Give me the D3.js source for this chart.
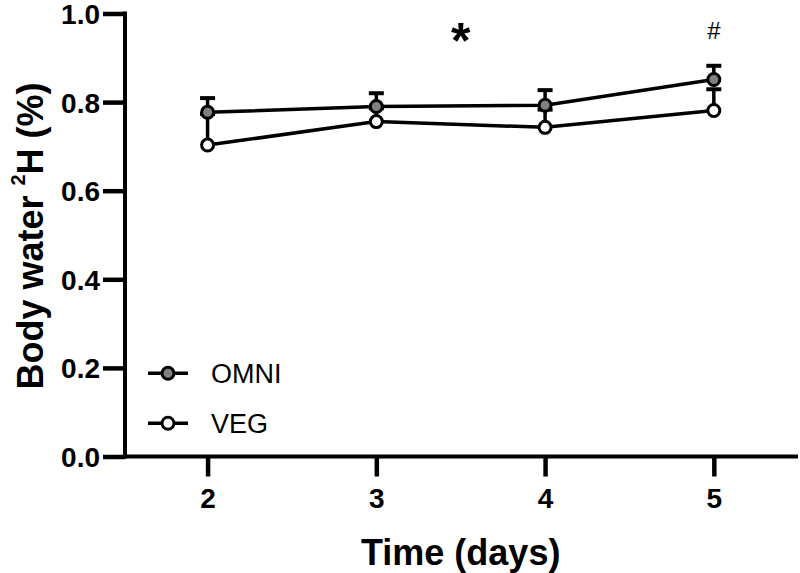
<!DOCTYPE html>
<html><head><meta charset="utf-8">
<script src="https://cdn.jsdelivr.net/npm/d3@7"></script>
<style>body{margin:0;background:#fff}svg{display:block}</style>
</head><body>
<svg id="c" width="800" height="573"></svg>
<script>
const days = [2, 3, 4, 5];
const omniMean = [0.777, 0.790, 0.793, 0.851];
const omniErr  = [0.032, 0.030, 0.034, 0.031];
const vegMean  = [0.703, 0.756, 0.743, 0.781];
const vegErr   = [0.070, 0.030, 0.040, 0.048];
const yTicks = [0.0, 0.2, 0.4, 0.6, 0.8, 1.0];
const seriesNames = ["OMNI", "VEG"];
const seriesFill = ["#808080", "#ffffff"];
const annotations = [{x: 3.5, text: "*"}, {x: 5, text: "#"}];

const svg = d3.select("#c");
const x = d3.scaleLinear().domain([1.5, 5.5]).range([123.2, 798.2]);
const y = d3.scaleLinear().domain([0, 1]).range([456.5, 13.5]);
const font = "'Liberation Sans', Arial, sans-serif";

// axes
const yAx = svg.append("g").attr("transform", "translate(125,0)")
  .call(d3.axisLeft(y).tickValues(yTicks).tickFormat(d3.format(".1f")).tickSize(22).tickPadding(3));
const xAx = svg.append("g").attr("transform", "translate(0,456.5)")
  .call(d3.axisBottom(x).tickValues(days).tickFormat(d3.format("d")).tickSize(20).tickPadding(12));
[yAx, xAx].forEach(g => {
  g.attr("font-size", null).attr("font-family", null);
  g.select(".domain").attr("stroke", "#000").attr("stroke-width", 4);
  g.selectAll(".tick line").attr("stroke", "#000").attr("stroke-width", 4.5);
  g.selectAll(".tick text").attr("fill", "#000").attr("font-family", font)
    .attr("font-size", 28).attr("font-weight", "bold");
});
yAx.select(".domain").attr("d", "M0,458.5V11.5");
xAx.select(".domain").attr("d", "M123,0H798");
yAx.selectAll(".tick text").attr("dy", "0.36em");

// axis titles
const yt = svg.append("text").attr("transform", "translate(43,236) rotate(-90)")
  .attr("text-anchor", "middle").attr("font-family", font).attr("font-size", 36)
  .attr("font-weight", "bold").attr("fill", "#000");
yt.append("tspan").text("Body water ");
yt.append("tspan").text("2").attr("dy", -18).attr("font-size", 20);
yt.append("tspan").text("H (%)").attr("dy", 18);

svg.append("text").attr("x", x(3.5)).attr("y", 565).attr("text-anchor", "middle")
  .attr("font-family", font).attr("font-size", 36).attr("font-weight", "bold")
  .text("Time (days)");

// series
const series = [
  {name: seriesNames[0], mean: omniMean, err: omniErr, fill: seriesFill[0]},
  {name: seriesNames[1], mean: vegMean, err: vegErr, fill: seriesFill[1]}
];
const line = d3.line().x((d, i) => x(days[i])).y(d => y(d));

// draw VEG first, then OMNI on top
[series[1], series[0]].forEach(s => {
  const g = svg.append("g");
  g.selectAll("line.err").data(s.mean).join("line")
    .attr("x1", (d, i) => x(days[i])).attr("x2", (d, i) => x(days[i]))
    .attr("y1", d => y(d)).attr("y2", (d, i) => y(d + s.err[i]))
    .attr("stroke", "#000").attr("stroke-width", 3.5);
  g.selectAll("line.cap").data(s.mean).join("line")
    .attr("x1", (d, i) => x(days[i]) - 7.5).attr("x2", (d, i) => x(days[i]) + 7.5)
    .attr("y1", (d, i) => y(d + s.err[i])).attr("y2", (d, i) => y(d + s.err[i]))
    .attr("stroke", "#000").attr("stroke-width", 4);
  g.append("path").datum(s.mean).attr("d", line).attr("fill", "none")
    .attr("stroke", "#000").attr("stroke-width", 3.5);
  g.selectAll("circle").data(s.mean).join("circle")
    .attr("cx", (d, i) => x(days[i])).attr("cy", d => y(d)).attr("r", 6)
    .attr("fill", s.fill).attr("stroke", "#000").attr("stroke-width", 3);
});

// annotations
svg.append("text").attr("x", x(annotations[0].x)).attr("y", 58).attr("text-anchor", "middle")
  .attr("font-family", font).attr("font-size", 50).attr("font-weight", "bold").text(annotations[0].text);
svg.append("text").attr("x", x(annotations[1].x)).attr("y", 38.5).attr("text-anchor", "middle")
  .attr("font-family", font).attr("font-size", 24).text(annotations[1].text);

// legend
series.forEach((s, i) => {
  const ly = 373.3 + i * 50;
  const lg = svg.append("g");
  lg.append("line").attr("x1", 148).attr("x2", 188).attr("y1", ly).attr("y2", ly)
    .attr("stroke", "#000").attr("stroke-width", 3.5);
  lg.append("circle").attr("cx", 168).attr("cy", ly).attr("r", 6)
    .attr("fill", s.fill).attr("stroke", "#000").attr("stroke-width", 3);
  lg.append("text").attr("x", 211).attr("y", ly + 10).attr("font-family", font)
    .attr("font-size", 27).text(s.name);
});
</script>
</body></html>
